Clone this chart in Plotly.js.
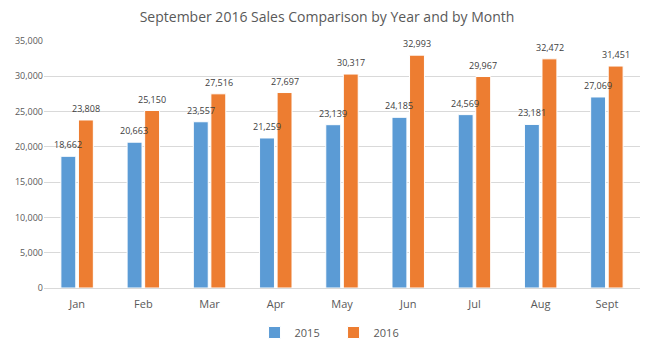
<!DOCTYPE html>
<html><head><meta charset="utf-8">
<script src="https://cdn.plot.ly/plotly-3.0.1.min.js"></script>
<style>body{margin:0;background:#fff}#c{width:654px;height:350px}</style>
</head><body><div id="c"></div>
<script>
const months = ["Jan","Feb","Mar","Apr","May","Jun","Jul","Aug","Sept"];
const sales2015 = [18662,20663,23557,21259,23139,24185,24569,23181,27069];
const sales2016 = [23808,25150,27516,27697,30317,32993,29967,32472,31451];
const fmt = v => v.toLocaleString("en-US");
const font = "Open Sans, Noto Sans, sans-serif";
const mk = (name, y, color) => ({
  type: "bar", name: name, x: months, y: y,
  marker: {color: color, line: {color: "#ffffff", width: 1}},
  hoverinfo: "none"
});
const data = [mk("2015", sales2015, "#5B9BD5"), mk("2016", sales2016, "#ED7D31")];
const labels = [];
[[sales2015, -9], [sales2016, 9]].forEach(([ys, dx]) => {
  ys.forEach((v, i) => labels.push({
    x: months[i], y: v, xref: "x", yref: "y", text: fmt(v), showarrow: false,
    xshift: dx, yanchor: "bottom", yshift: 3,
    font: {size: 9, color: "#404040", family: font}
  }));
});
const layout = {
  width: 654, height: 350,
  margin: {l: 44, r: 14, t: 41, b: 62},
  paper_bgcolor: "#fff", plot_bgcolor: "#fff",
  title: {text: "September 2016 Sales Comparison by Year and by Month",
          font: {size: 14, color: "#595959", family: font}, x: 0.5, xanchor: "center", y: 0.95, yanchor: "middle"},
  barmode: "group", bargap: 0.47, bargroupgap: 0.15,
  xaxis: {showgrid: false, showline: true, linecolor: "#d9d9d9", ticks: "",
          tickfont: {size: 11, color: "#595959", family: font}, ticklabelstandoff: 6},
  yaxis: {range: [0, 35000], dtick: 5000, tickformat: ",", gridcolor: "#d9d9d9",
          zeroline: false, showline: false, ticks: "",
          tickfont: {size: 9, color: "#595959", family: font}},
  legend: {orientation: "h", x: 0.51, xanchor: "center", xref: "container",
           y: 0.05, yanchor: "middle", yref: "container",
           font: {size: 11, color: "#595959", family: font}, itemwidth: 30, entrywidth: 34},
  annotations: labels,
  showlegend: true
};
Plotly.newPlot("c", data, layout, {displayModeBar: false, staticPlot: true});
</script></body></html>
